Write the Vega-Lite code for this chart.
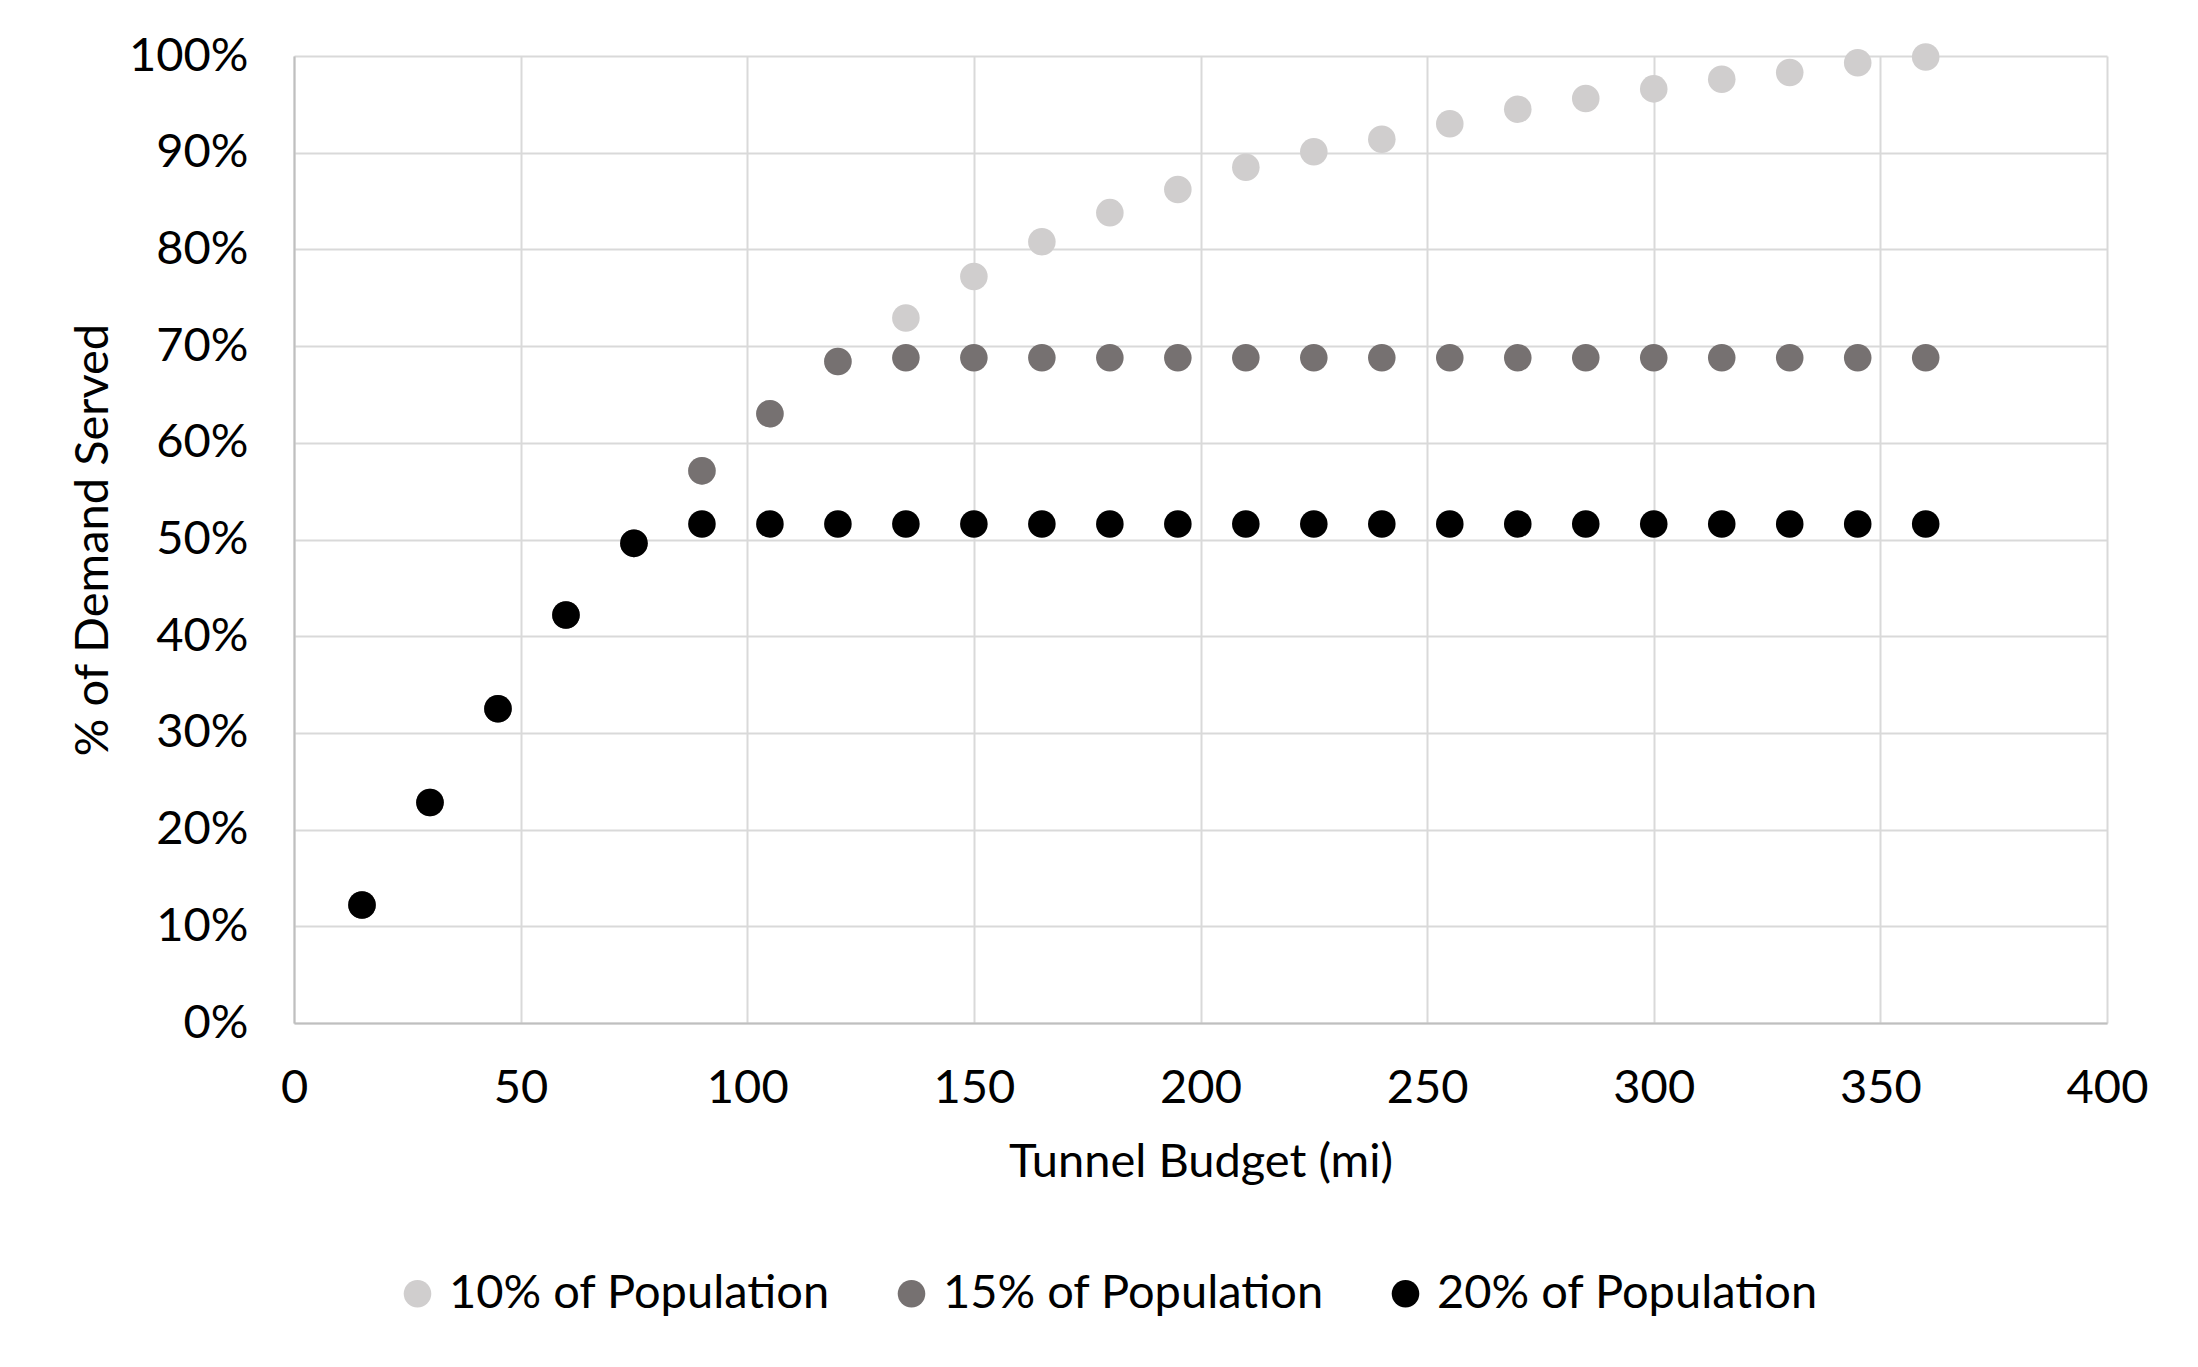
{
  "$schema": "https://vega.github.io/schema/vega-lite/v6.json",
  "autosize": "none",
  "width": 1813,
  "height": 967,
  "padding": {"left": 294, "top": 56, "right": 91, "bottom": 344},
  "background": "white",
  "data": {
    "values": [
      {"budget": 15, "served": 0.122, "series": "10% of Population"},
      {"budget": 30, "served": 0.228, "series": "10% of Population"},
      {"budget": 45, "served": 0.325, "series": "10% of Population"},
      {"budget": 60, "served": 0.422, "series": "10% of Population"},
      {"budget": 75, "served": 0.496, "series": "10% of Population"},
      {"budget": 90, "served": 0.571, "series": "10% of Population"},
      {"budget": 105, "served": 0.630, "series": "10% of Population"},
      {"budget": 120, "served": 0.684, "series": "10% of Population"},
      {"budget": 135, "served": 0.729, "series": "10% of Population"},
      {"budget": 150, "served": 0.772, "series": "10% of Population"},
      {"budget": 165, "served": 0.808, "series": "10% of Population"},
      {"budget": 180, "served": 0.838, "series": "10% of Population"},
      {"budget": 195, "served": 0.862, "series": "10% of Population"},
      {"budget": 210, "served": 0.885, "series": "10% of Population"},
      {"budget": 225, "served": 0.901, "series": "10% of Population"},
      {"budget": 240, "served": 0.914, "series": "10% of Population"},
      {"budget": 255, "served": 0.930, "series": "10% of Population"},
      {"budget": 270, "served": 0.945, "series": "10% of Population"},
      {"budget": 285, "served": 0.956, "series": "10% of Population"},
      {"budget": 300, "served": 0.966, "series": "10% of Population"},
      {"budget": 315, "served": 0.976, "series": "10% of Population"},
      {"budget": 330, "served": 0.983, "series": "10% of Population"},
      {"budget": 345, "served": 0.993, "series": "10% of Population"},
      {"budget": 360, "served": 0.999, "series": "10% of Population"},
      {"budget": 15, "served": 0.122, "series": "15% of Population"},
      {"budget": 30, "served": 0.228, "series": "15% of Population"},
      {"budget": 45, "served": 0.325, "series": "15% of Population"},
      {"budget": 60, "served": 0.422, "series": "15% of Population"},
      {"budget": 75, "served": 0.496, "series": "15% of Population"},
      {"budget": 90, "served": 0.571, "series": "15% of Population"},
      {"budget": 105, "served": 0.630, "series": "15% of Population"},
      {"budget": 120, "served": 0.684, "series": "15% of Population"},
      {"budget": 135, "served": 0.688, "series": "15% of Population"},
      {"budget": 150, "served": 0.688, "series": "15% of Population"},
      {"budget": 165, "served": 0.688, "series": "15% of Population"},
      {"budget": 180, "served": 0.688, "series": "15% of Population"},
      {"budget": 195, "served": 0.688, "series": "15% of Population"},
      {"budget": 210, "served": 0.688, "series": "15% of Population"},
      {"budget": 225, "served": 0.688, "series": "15% of Population"},
      {"budget": 240, "served": 0.688, "series": "15% of Population"},
      {"budget": 255, "served": 0.688, "series": "15% of Population"},
      {"budget": 270, "served": 0.688, "series": "15% of Population"},
      {"budget": 285, "served": 0.688, "series": "15% of Population"},
      {"budget": 300, "served": 0.688, "series": "15% of Population"},
      {"budget": 315, "served": 0.688, "series": "15% of Population"},
      {"budget": 330, "served": 0.688, "series": "15% of Population"},
      {"budget": 345, "served": 0.688, "series": "15% of Population"},
      {"budget": 360, "served": 0.688, "series": "15% of Population"},
      {"budget": 15, "served": 0.122, "series": "20% of Population"},
      {"budget": 30, "served": 0.228, "series": "20% of Population"},
      {"budget": 45, "served": 0.325, "series": "20% of Population"},
      {"budget": 60, "served": 0.422, "series": "20% of Population"},
      {"budget": 75, "served": 0.496, "series": "20% of Population"},
      {"budget": 90, "served": 0.516, "series": "20% of Population"},
      {"budget": 105, "served": 0.516, "series": "20% of Population"},
      {"budget": 120, "served": 0.516, "series": "20% of Population"},
      {"budget": 135, "served": 0.516, "series": "20% of Population"},
      {"budget": 150, "served": 0.516, "series": "20% of Population"},
      {"budget": 165, "served": 0.516, "series": "20% of Population"},
      {"budget": 180, "served": 0.516, "series": "20% of Population"},
      {"budget": 195, "served": 0.516, "series": "20% of Population"},
      {"budget": 210, "served": 0.516, "series": "20% of Population"},
      {"budget": 225, "served": 0.516, "series": "20% of Population"},
      {"budget": 240, "served": 0.516, "series": "20% of Population"},
      {"budget": 255, "served": 0.516, "series": "20% of Population"},
      {"budget": 270, "served": 0.516, "series": "20% of Population"},
      {"budget": 285, "served": 0.516, "series": "20% of Population"},
      {"budget": 300, "served": 0.516, "series": "20% of Population"},
      {"budget": 315, "served": 0.516, "series": "20% of Population"},
      {"budget": 330, "served": 0.516, "series": "20% of Population"},
      {"budget": 345, "served": 0.516, "series": "20% of Population"},
      {"budget": 360, "served": 0.516, "series": "20% of Population"}
    ]
  },
  "mark": {"type": "point", "filled": true, "opacity": 1, "size": 760, "shape": "circle"},
  "encoding": {
    "x": {
      "field": "budget", "type": "quantitative",
      "scale": {"domain": [0, 400], "nice": false, "zero": true},
      "axis": {"title": "Tunnel Budget (mi)", "values": [0, 50, 100, 150, 200, 250, 300, 350, 400], "labelFlush": false, "labelPadding": 42, "titlePadding": 28}
    },
    "y": {
      "field": "served", "type": "quantitative",
      "scale": {"domain": [0, 1], "nice": false},
      "axis": {"title": "% of Demand Served", "format": ".0%", "values": [0, 0.1, 0.2, 0.3, 0.4, 0.5, 0.6, 0.7, 0.8, 0.9, 1.0], "labelFlush": false, "labelPadding": 46, "titlePadding": 11}
    },
    "color": {
      "field": "series", "type": "nominal",
      "scale": {"domain": ["10% of Population", "15% of Population", "20% of Population"], "range": ["#d0cece", "#767171", "#000000"]},
      "legend": {"title": null, "orient": "none", "legendX": 100, "legendY": 1214, "direction": "horizontal", "symbolSize": 760, "symbolType": "circle", "labelOffset": 8, "columnPadding": 57}
    },
    "order": {"field": "series", "sort": "ascending"}
  },
  "config": {
    "font": "Lato",
    "view": {"stroke": null},
    "axis": {
      "labelFont": "Lato", "titleFont": "Lato",
      "labelFontSize": 47, "titleFontSize": 47, "titleFontWeight": "normal",
      "labelColor": "#000000", "titleColor": "#000000",
      "ticks": false, "grid": true, "gridColor": "#d9d9d9", "gridWidth": 2,
      "domain": true, "domainColor": "#bfbfbf", "domainWidth": 2
    },
    "legend": {"labelFont": "Lato", "labelFontSize": 47, "labelColor": "#000000", "symbolStrokeWidth": 0, "symbolOpacity": 1, "labelLimit": 0}
  }
}
